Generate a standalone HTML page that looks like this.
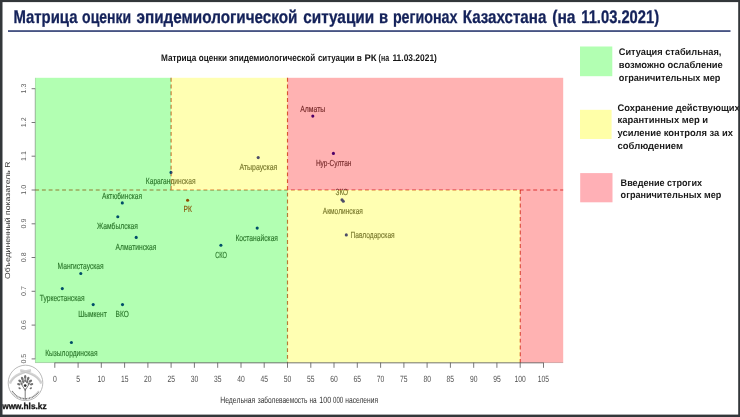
<!DOCTYPE html>
<html><head><meta charset="utf-8"><title>Matrix</title>
<style>
html,body{margin:0;padding:0;background:#fff;}
body{width:740px;height:417px;overflow:hidden;font-family:"Liberation Sans",sans-serif;}
svg{display:block;will-change:transform;}
text{font-family:"Liberation Sans",sans-serif;text-rendering:geometricPrecision;}
</style></head><body>
<svg width="740" height="417" viewBox="0 0 740 417">
<rect x="0" y="0" width="740" height="417" fill="#ffffff"/>
<text x="13.4" y="22.8" font-size="18.2" font-weight="bold" fill="#14225a" stroke="#14225a" stroke-width="0.3" textLength="64.1" lengthAdjust="spacingAndGlyphs">Матрица</text>
<text x="82.1" y="22.8" font-size="18.2" font-weight="bold" fill="#14225a" stroke="#14225a" stroke-width="0.3" textLength="49.1" lengthAdjust="spacingAndGlyphs">оценки</text>
<text x="136.6" y="22.8" font-size="18.2" font-weight="bold" fill="#14225a" stroke="#14225a" stroke-width="0.3" textLength="160.9" lengthAdjust="spacingAndGlyphs">эпидемиологической</text>
<text x="303.2" y="22.8" font-size="18.2" font-weight="bold" fill="#14225a" stroke="#14225a" stroke-width="0.3" textLength="71.0" lengthAdjust="spacingAndGlyphs">ситуации</text>
<text x="379.1" y="22.8" font-size="18.2" font-weight="bold" fill="#14225a" stroke="#14225a" stroke-width="0.3" textLength="9.1" lengthAdjust="spacingAndGlyphs">в</text>
<text x="392.9" y="22.8" font-size="18.2" font-weight="bold" fill="#14225a" stroke="#14225a" stroke-width="0.3" textLength="64.6" lengthAdjust="spacingAndGlyphs">регионах</text>
<text x="462.8" y="22.8" font-size="18.2" font-weight="bold" fill="#14225a" stroke="#14225a" stroke-width="0.3" textLength="83.5" lengthAdjust="spacingAndGlyphs">Казахстана</text>
<text x="552.2" y="22.8" font-size="18.2" font-weight="bold" fill="#14225a" stroke="#14225a" stroke-width="0.3" textLength="23.3" lengthAdjust="spacingAndGlyphs">(на</text>
<text x="581.3" y="22.8" font-size="18.2" font-weight="bold" fill="#14225a" stroke="#14225a" stroke-width="0.3" textLength="77.8" lengthAdjust="spacingAndGlyphs">11.03.2021)</text>
<rect x="8" y="30.3" width="722.5" height="1.5" fill="#1c2c66"/>
<text x="161.0" y="60.7" font-size="9.6" font-weight="bold" fill="#151515" textLength="35.3" lengthAdjust="spacingAndGlyphs">Матрица</text>
<text x="198.8" y="60.7" font-size="9.6" font-weight="bold" fill="#151515" textLength="28.2" lengthAdjust="spacingAndGlyphs">оценки</text>
<text x="229.3" y="60.7" font-size="9.6" font-weight="bold" fill="#151515" textLength="85.9" lengthAdjust="spacingAndGlyphs">эпидемиологической</text>
<text x="317.9" y="60.7" font-size="9.6" font-weight="bold" fill="#151515" textLength="36.8" lengthAdjust="spacingAndGlyphs">ситуации</text>
<text x="356.8" y="60.7" font-size="9.6" font-weight="bold" fill="#151515" textLength="5.1" lengthAdjust="spacingAndGlyphs">в</text>
<text x="364.4" y="60.7" font-size="9.6" font-weight="bold" fill="#151515" textLength="12.1" lengthAdjust="spacingAndGlyphs">РК</text>
<text x="378.6" y="60.7" font-size="9.6" font-weight="bold" fill="#151515" textLength="10.5" lengthAdjust="spacingAndGlyphs">(на</text>
<text x="392.4" y="60.7" font-size="9.6" font-weight="bold" fill="#151515" textLength="44.5" lengthAdjust="spacingAndGlyphs">11.03.2021)</text>
<g>
<line x1="35.2" y1="190.0" x2="563.2" y2="190.0" stroke="#b80000" stroke-width="1.15" stroke-opacity="0.72" fill="none" stroke-dasharray="3.9 2.83"/>
<line x1="171.1" y1="77.8" x2="171.1" y2="190.0" stroke="#b80000" stroke-width="1.15" stroke-opacity="0.72" fill="none" stroke-dasharray="3.9 2.86"/>
<line x1="287.5" y1="77.8" x2="287.5" y2="362.7" stroke="#b80000" stroke-width="1.15" stroke-opacity="0.72" fill="none" stroke-dasharray="3.9 2.86"/>
<line x1="520.2" y1="190.0" x2="520.2" y2="362.7" stroke="#b80000" stroke-width="1.15" stroke-opacity="0.72" fill="none" stroke-dasharray="3.9 2.86"/>
<circle cx="171.0" cy="172.4" r="1.55" fill="#000096"/>
<circle cx="122.3" cy="202.9" r="1.55" fill="#000096"/>
<circle cx="117.8" cy="216.8" r="1.55" fill="#000096"/>
<circle cx="136.2" cy="237.4" r="1.55" fill="#000096"/>
<circle cx="187.6" cy="200.2" r="1.55" fill="#cd0000"/>
<circle cx="80.8" cy="273.5" r="1.55" fill="#000096"/>
<circle cx="62.3" cy="288.6" r="1.55" fill="#000096"/>
<circle cx="93.2" cy="304.6" r="1.55" fill="#000096"/>
<circle cx="122.5" cy="304.6" r="1.55" fill="#000096"/>
<circle cx="71.4" cy="342.5" r="1.55" fill="#000096"/>
<circle cx="258.2" cy="157.6" r="1.55" fill="#000096"/>
<circle cx="333.4" cy="153.4" r="1.55" fill="#000096"/>
<circle cx="312.8" cy="116.1" r="1.55" fill="#000096"/>
<circle cx="342.0" cy="199.8" r="1.55" fill="#000096"/>
<circle cx="343.3" cy="201.2" r="1.55" fill="#000096"/>
<circle cx="257.2" cy="228.1" r="1.55" fill="#000096"/>
<circle cx="220.9" cy="245.3" r="1.55" fill="#000096"/>
<circle cx="346.3" cy="234.9" r="1.55" fill="#000096"/>
<text x="145.8" y="184.2" font-size="8.9" fill="#3a3a3a" stroke="#3a3a3a" stroke-width="0.14" textLength="49.7" lengthAdjust="spacingAndGlyphs">Карагандинская</text>
<text x="102.0" y="198.6" font-size="8.9" fill="#3a3a3a" stroke="#3a3a3a" stroke-width="0.14" textLength="40.0" lengthAdjust="spacingAndGlyphs">Актюбинская</text>
<text x="97.1" y="229.0" font-size="8.9" fill="#3a3a3a" stroke="#3a3a3a" stroke-width="0.14" textLength="40.8" lengthAdjust="spacingAndGlyphs">Жамбылская</text>
<text x="115.6" y="250.1" font-size="8.9" fill="#3a3a3a" stroke="#3a3a3a" stroke-width="0.14" textLength="40.8" lengthAdjust="spacingAndGlyphs">Алматинская</text>
<text x="183.6" y="212.4" font-size="8.9" fill="#c00000" stroke="#c00000" stroke-width="0.14" textLength="8.3" lengthAdjust="spacingAndGlyphs">РК</text>
<text x="57.6" y="268.8" font-size="8.9" fill="#3a3a3a" stroke="#3a3a3a" stroke-width="0.14" textLength="46.0" lengthAdjust="spacingAndGlyphs">Мангистауская</text>
<text x="39.7" y="300.9" font-size="8.9" fill="#3a3a3a" stroke="#3a3a3a" stroke-width="0.14" textLength="44.9" lengthAdjust="spacingAndGlyphs">Туркестанская</text>
<text x="78.3" y="317.4" font-size="8.9" fill="#3a3a3a" stroke="#3a3a3a" stroke-width="0.14" textLength="28.4" lengthAdjust="spacingAndGlyphs">Шымкент</text>
<text x="115.6" y="317.4" font-size="8.9" fill="#3a3a3a" stroke="#3a3a3a" stroke-width="0.14" textLength="13.2" lengthAdjust="spacingAndGlyphs">ВКО</text>
<text x="45.2" y="355.6" font-size="8.9" fill="#3a3a3a" stroke="#3a3a3a" stroke-width="0.14" textLength="52.4" lengthAdjust="spacingAndGlyphs">Кызылординская</text>
<text x="239.4" y="169.8" font-size="8.9" fill="#3a3a3a" stroke="#3a3a3a" stroke-width="0.14" textLength="38.0" lengthAdjust="spacingAndGlyphs">Атырауская</text>
<text x="315.9" y="166.3" font-size="8.9" fill="#3a3a3a" stroke="#3a3a3a" stroke-width="0.14" textLength="35.5" lengthAdjust="spacingAndGlyphs">Нур-Султан</text>
<text x="300.2" y="111.9" font-size="8.9" fill="#3a3a3a" stroke="#3a3a3a" stroke-width="0.14" textLength="25.1" lengthAdjust="spacingAndGlyphs">Алматы</text>
<text x="335.5" y="195.2" font-size="8.9" fill="#3a3a3a" stroke="#3a3a3a" stroke-width="0.14" textLength="12.6" lengthAdjust="spacingAndGlyphs">ЗКО</text>
<text x="322.8" y="213.8" font-size="8.9" fill="#3a3a3a" stroke="#3a3a3a" stroke-width="0.14" textLength="40.1" lengthAdjust="spacingAndGlyphs">Акмолинская</text>
<text x="235.4" y="240.9" font-size="8.9" fill="#3a3a3a" stroke="#3a3a3a" stroke-width="0.14" textLength="42.6" lengthAdjust="spacingAndGlyphs">Костанайская</text>
<text x="215.2" y="257.8" font-size="8.9" fill="#3a3a3a" stroke="#3a3a3a" stroke-width="0.14" textLength="11.8" lengthAdjust="spacingAndGlyphs">СКО</text>
<text x="350.5" y="238.4" font-size="8.9" fill="#3a3a3a" stroke="#3a3a3a" stroke-width="0.14" textLength="44.2" lengthAdjust="spacingAndGlyphs">Павлодарская</text>
</g>
<rect x="35.20" y="77.80" width="135.95" height="112.20" fill="#00ff00" fill-opacity="0.3"/>
<rect x="35.20" y="190.00" width="252.30" height="172.70" fill="#00ff00" fill-opacity="0.3"/>
<rect x="171.15" y="77.80" width="116.35" height="112.20" fill="#ffff00" fill-opacity="0.3"/>
<rect x="287.50" y="190.00" width="232.70" height="172.70" fill="#ffff00" fill-opacity="0.3"/>
<rect x="287.50" y="77.80" width="275.70" height="112.20" fill="#ff0000" fill-opacity="0.3"/>
<rect x="520.20" y="190.00" width="43.00" height="172.70" fill="#ff0000" fill-opacity="0.3"/>
<line x1="54.8" y1="362.7" x2="54.8" y2="367.8" stroke="#555" stroke-width="0.8"/>
<text x="52.9" y="381.9" font-size="9.1" fill="#505050" textLength="3.8" lengthAdjust="spacingAndGlyphs">0</text>
<line x1="78.1" y1="362.7" x2="78.1" y2="367.8" stroke="#555" stroke-width="0.8"/>
<text x="76.2" y="381.9" font-size="9.1" fill="#505050" textLength="3.8" lengthAdjust="spacingAndGlyphs">5</text>
<line x1="101.3" y1="362.7" x2="101.3" y2="367.8" stroke="#555" stroke-width="0.8"/>
<text x="97.6" y="381.9" font-size="9.1" fill="#505050" textLength="7.5" lengthAdjust="spacingAndGlyphs">10</text>
<line x1="124.6" y1="362.7" x2="124.6" y2="367.8" stroke="#555" stroke-width="0.8"/>
<text x="120.9" y="381.9" font-size="9.1" fill="#505050" textLength="7.5" lengthAdjust="spacingAndGlyphs">15</text>
<line x1="147.9" y1="362.7" x2="147.9" y2="367.8" stroke="#555" stroke-width="0.8"/>
<text x="144.1" y="381.9" font-size="9.1" fill="#505050" textLength="7.5" lengthAdjust="spacingAndGlyphs">20</text>
<line x1="171.1" y1="362.7" x2="171.1" y2="367.8" stroke="#555" stroke-width="0.8"/>
<text x="167.4" y="381.9" font-size="9.1" fill="#505050" textLength="7.5" lengthAdjust="spacingAndGlyphs">25</text>
<line x1="194.4" y1="362.7" x2="194.4" y2="367.8" stroke="#555" stroke-width="0.8"/>
<text x="190.7" y="381.9" font-size="9.1" fill="#505050" textLength="7.5" lengthAdjust="spacingAndGlyphs">30</text>
<line x1="217.7" y1="362.7" x2="217.7" y2="367.8" stroke="#555" stroke-width="0.8"/>
<text x="213.9" y="381.9" font-size="9.1" fill="#505050" textLength="7.5" lengthAdjust="spacingAndGlyphs">35</text>
<line x1="241.0" y1="362.7" x2="241.0" y2="367.8" stroke="#555" stroke-width="0.8"/>
<text x="237.2" y="381.9" font-size="9.1" fill="#505050" textLength="7.5" lengthAdjust="spacingAndGlyphs">40</text>
<line x1="264.2" y1="362.7" x2="264.2" y2="367.8" stroke="#555" stroke-width="0.8"/>
<text x="260.5" y="381.9" font-size="9.1" fill="#505050" textLength="7.5" lengthAdjust="spacingAndGlyphs">45</text>
<line x1="287.5" y1="362.7" x2="287.5" y2="367.8" stroke="#555" stroke-width="0.8"/>
<text x="283.8" y="381.9" font-size="9.1" fill="#505050" textLength="7.5" lengthAdjust="spacingAndGlyphs">50</text>
<line x1="310.8" y1="362.7" x2="310.8" y2="367.8" stroke="#555" stroke-width="0.8"/>
<text x="307.0" y="381.9" font-size="9.1" fill="#505050" textLength="7.5" lengthAdjust="spacingAndGlyphs">55</text>
<line x1="334.0" y1="362.7" x2="334.0" y2="367.8" stroke="#555" stroke-width="0.8"/>
<text x="330.3" y="381.9" font-size="9.1" fill="#505050" textLength="7.5" lengthAdjust="spacingAndGlyphs">60</text>
<line x1="357.3" y1="362.7" x2="357.3" y2="367.8" stroke="#555" stroke-width="0.8"/>
<text x="353.6" y="381.9" font-size="9.1" fill="#505050" textLength="7.5" lengthAdjust="spacingAndGlyphs">65</text>
<line x1="380.6" y1="362.7" x2="380.6" y2="367.8" stroke="#555" stroke-width="0.8"/>
<text x="376.8" y="381.9" font-size="9.1" fill="#505050" textLength="7.5" lengthAdjust="spacingAndGlyphs">70</text>
<line x1="403.9" y1="362.7" x2="403.9" y2="367.8" stroke="#555" stroke-width="0.8"/>
<text x="400.1" y="381.9" font-size="9.1" fill="#505050" textLength="7.5" lengthAdjust="spacingAndGlyphs">75</text>
<line x1="427.1" y1="362.7" x2="427.1" y2="367.8" stroke="#555" stroke-width="0.8"/>
<text x="423.4" y="381.9" font-size="9.1" fill="#505050" textLength="7.5" lengthAdjust="spacingAndGlyphs">80</text>
<line x1="450.4" y1="362.7" x2="450.4" y2="367.8" stroke="#555" stroke-width="0.8"/>
<text x="446.6" y="381.9" font-size="9.1" fill="#505050" textLength="7.5" lengthAdjust="spacingAndGlyphs">85</text>
<line x1="473.7" y1="362.7" x2="473.7" y2="367.8" stroke="#555" stroke-width="0.8"/>
<text x="469.9" y="381.9" font-size="9.1" fill="#505050" textLength="7.5" lengthAdjust="spacingAndGlyphs">90</text>
<line x1="496.9" y1="362.7" x2="496.9" y2="367.8" stroke="#555" stroke-width="0.8"/>
<text x="493.2" y="381.9" font-size="9.1" fill="#505050" textLength="7.5" lengthAdjust="spacingAndGlyphs">95</text>
<line x1="520.2" y1="362.7" x2="520.2" y2="367.8" stroke="#555" stroke-width="0.8"/>
<text x="514.6" y="381.9" font-size="9.1" fill="#505050" textLength="11.2" lengthAdjust="spacingAndGlyphs">100</text>
<line x1="543.5" y1="362.7" x2="543.5" y2="367.8" stroke="#555" stroke-width="0.8"/>
<text x="537.8" y="381.9" font-size="9.1" fill="#505050" textLength="11.2" lengthAdjust="spacingAndGlyphs">105</text>
<line x1="31.6" y1="358.9" x2="35.2" y2="358.9" stroke="#555" stroke-width="0.8"/>
<text transform="translate(25.7,363.6) rotate(-90)" font-size="7" fill="#5c5c5c" textLength="9.8" lengthAdjust="spacingAndGlyphs">0.5</text>
<line x1="31.6" y1="325.1" x2="35.2" y2="325.1" stroke="#555" stroke-width="0.8"/>
<text transform="translate(25.7,329.8) rotate(-90)" font-size="7" fill="#5c5c5c" textLength="9.8" lengthAdjust="spacingAndGlyphs">0.6</text>
<line x1="31.6" y1="291.3" x2="35.2" y2="291.3" stroke="#555" stroke-width="0.8"/>
<text transform="translate(25.7,296.0) rotate(-90)" font-size="7" fill="#5c5c5c" textLength="9.8" lengthAdjust="spacingAndGlyphs">0.7</text>
<line x1="31.6" y1="257.5" x2="35.2" y2="257.5" stroke="#555" stroke-width="0.8"/>
<text transform="translate(25.7,262.2) rotate(-90)" font-size="7" fill="#5c5c5c" textLength="9.8" lengthAdjust="spacingAndGlyphs">0.8</text>
<line x1="31.6" y1="223.8" x2="35.2" y2="223.8" stroke="#555" stroke-width="0.8"/>
<text transform="translate(25.7,228.5) rotate(-90)" font-size="7" fill="#5c5c5c" textLength="9.8" lengthAdjust="spacingAndGlyphs">0.9</text>
<line x1="31.6" y1="190.0" x2="35.2" y2="190.0" stroke="#555" stroke-width="0.8"/>
<text transform="translate(25.7,194.7) rotate(-90)" font-size="7" fill="#5c5c5c" textLength="9.8" lengthAdjust="spacingAndGlyphs">1.0</text>
<line x1="31.6" y1="156.2" x2="35.2" y2="156.2" stroke="#555" stroke-width="0.8"/>
<text transform="translate(25.7,160.9) rotate(-90)" font-size="7" fill="#5c5c5c" textLength="9.8" lengthAdjust="spacingAndGlyphs">1.1</text>
<line x1="31.6" y1="122.5" x2="35.2" y2="122.5" stroke="#555" stroke-width="0.8"/>
<text transform="translate(25.7,127.2) rotate(-90)" font-size="7" fill="#5c5c5c" textLength="9.8" lengthAdjust="spacingAndGlyphs">1.2</text>
<line x1="31.6" y1="88.7" x2="35.2" y2="88.7" stroke="#555" stroke-width="0.8"/>
<text transform="translate(25.7,93.4) rotate(-90)" font-size="7" fill="#5c5c5c" textLength="9.8" lengthAdjust="spacingAndGlyphs">1.3</text>
<line x1="54.8" y1="362.9" x2="543.5" y2="362.9" stroke="#666" stroke-width="0.7"/>
<line x1="35.1" y1="358.9" x2="35.1" y2="88.7" stroke="#777" stroke-opacity="0.6" stroke-width="0.6"/>
<line x1="35.2" y1="362.59999999999997" x2="563.2" y2="362.59999999999997" stroke="#000" stroke-opacity="0.22" stroke-width="0.8"/>
<line x1="35.400000000000006" y1="77.8" x2="35.400000000000006" y2="362.7" stroke="#000" stroke-opacity="0.16" stroke-width="0.8"/>
<text x="220.3" y="403.1" font-size="9.0" fill="#333" textLength="34.9" lengthAdjust="spacingAndGlyphs">Недельная</text>
<text x="257.7" y="403.1" font-size="9.0" fill="#333" textLength="49.8" lengthAdjust="spacingAndGlyphs">заболеваемость</text>
<text x="309.5" y="403.1" font-size="9.0" fill="#333" textLength="7.2" lengthAdjust="spacingAndGlyphs">на</text>
<text x="319.3" y="403.1" font-size="9.0" fill="#333" textLength="11.8" lengthAdjust="spacingAndGlyphs">100</text>
<text x="333.1" y="403.1" font-size="9.0" fill="#333" textLength="10.1" lengthAdjust="spacingAndGlyphs">000</text>
<text x="345.3" y="403.1" font-size="9.0" fill="#333" textLength="32.7" lengthAdjust="spacingAndGlyphs">населения</text>
<text transform="translate(9.8,278.9) rotate(-90)" font-size="7.2" fill="#333" textLength="117.4" lengthAdjust="spacingAndGlyphs">Объединенный показатель R</text>
<rect x="580" y="46.5" width="32.3" height="29.7" fill="#b2ffb2"/>
<rect x="580" y="109.8" width="31.6" height="29.2" fill="#ffffa8"/>
<rect x="580.2" y="173.1" width="32.3" height="29.2" fill="#ffb0b6"/>
<text x="618.8" y="55.40" font-size="9.6" font-weight="bold" fill="#1a1a1a" textLength="102.6" lengthAdjust="spacingAndGlyphs">Ситуация стабильная,</text>
<text x="618.8" y="67.95" font-size="9.6" font-weight="bold" fill="#1a1a1a" textLength="104.0" lengthAdjust="spacingAndGlyphs">возможно ослабление</text>
<text x="618.8" y="80.50" font-size="9.6" font-weight="bold" fill="#1a1a1a" textLength="101.6" lengthAdjust="spacingAndGlyphs">ограничительных мер</text>
<text x="617.5" y="110.80" font-size="9.6" font-weight="bold" fill="#1a1a1a" textLength="122.3" lengthAdjust="spacingAndGlyphs">Сохранение действующих</text>
<text x="617.5" y="123.30" font-size="9.6" font-weight="bold" fill="#1a1a1a" textLength="90.6" lengthAdjust="spacingAndGlyphs">карантинных мер и</text>
<text x="617.5" y="135.90" font-size="9.6" font-weight="bold" fill="#1a1a1a" textLength="115.4" lengthAdjust="spacingAndGlyphs">усиление контроля за их</text>
<text x="617.5" y="148.50" font-size="9.6" font-weight="bold" fill="#1a1a1a" textLength="65.5" lengthAdjust="spacingAndGlyphs">соблюдением</text>
<text x="620.6" y="185.80" font-size="9.6" font-weight="bold" fill="#1a1a1a" textLength="81.4" lengthAdjust="spacingAndGlyphs">Введение строгих</text>
<text x="620.6" y="198.20" font-size="9.6" font-weight="bold" fill="#1a1a1a" textLength="100.8" lengthAdjust="spacingAndGlyphs">ограничительных мер</text>
<g fill="none">
<ellipse cx="25.5" cy="382.9" rx="17.3" ry="17.7" stroke="#a8a8a8" stroke-width="0.8"/>
<path d="M9.9 383.6 Q13 374.2 31 370.3" stroke="#d4d4d4" stroke-width="2.6"/>
<path d="M41.3 383.6 Q38.2 374.2 20.2 370.3" stroke="#d4d4d4" stroke-width="2.6"/>
<path d="M10.6 382.2 Q14.4 374.4 30.6 371.2" stroke="#bdbdbd" stroke-width="0.5"/>
<path d="M40.6 382.2 Q36.8 374.4 20.6 371.2" stroke="#bdbdbd" stroke-width="0.5"/>
<path d="M12.2 391.2 A15.6 15.8 0 0 0 38.8 391.2" stroke="#707070" stroke-width="1.5" stroke-dasharray="0.9 0.6"/>
</g>
<g stroke="#5a5a5a" stroke-width="0.8" fill="none" stroke-linecap="round">
<path d="M25.2 399.3 L25.2 388.8 M25.2 390.2 L21.6 384.6 M25.2 390.2 L28.8 384.6"/>
</g>
<g fill="#707070">
<ellipse cx="25.2" cy="377.0" rx="1.2" ry="1.9" transform="rotate(0 25.2 377.0)"/>
<ellipse cx="22.3" cy="378.6" rx="1.2" ry="1.9" transform="rotate(-28 22.3 378.6)"/>
<ellipse cx="28.1" cy="378.6" rx="1.2" ry="1.9" transform="rotate(28 28.1 378.6)"/>
<ellipse cx="19.9" cy="381.0" rx="1.2" ry="1.8" transform="rotate(-55 19.9 381.0)"/>
<ellipse cx="30.5" cy="381.0" rx="1.2" ry="1.8" transform="rotate(55 30.5 381.0)"/>
<ellipse cx="18.8" cy="384.2" rx="1.1" ry="1.7" transform="rotate(-75 18.8 384.2)"/>
<ellipse cx="31.6" cy="384.2" rx="1.1" ry="1.7" transform="rotate(75 31.6 384.2)"/>
<ellipse cx="23.2" cy="381.6" rx="1.1" ry="1.7" transform="rotate(-18 23.2 381.6)"/>
<ellipse cx="27.2" cy="381.6" rx="1.1" ry="1.7" transform="rotate(18 27.2 381.6)"/>
<ellipse cx="25.2" cy="380.4" rx="1.0" ry="1.5" transform="rotate(0 25.2 380.4)"/>
<ellipse cx="21.6" cy="383.6" rx="1.0" ry="1.4" transform="rotate(-40 21.6 383.6)"/>
<ellipse cx="28.8" cy="383.6" rx="1.0" ry="1.4" transform="rotate(40 28.8 383.6)"/>
<ellipse cx="19.6" cy="388.2" rx="0.9" ry="1.3" transform="rotate(-60 19.6 388.2)"/>
<ellipse cx="30.8" cy="388.2" rx="0.9" ry="1.3" transform="rotate(60 30.8 388.2)"/>
<circle cx="25.2" cy="385.6" r="1.35" fill="#2a2a2a"/>
</g>
<text x="2.2" y="409.1" font-size="8.6" font-weight="bold" fill="#111" stroke="#111" stroke-width="0.3" textLength="44.4" lengthAdjust="spacingAndGlyphs">www.hls.kz</text>
<rect x="0" y="0" width="740" height="2.1" fill="#33373a"/>
<rect x="0" y="0" width="2.5" height="417" fill="#33373a"/>
<rect x="738.2" y="0" width="1.8" height="417" fill="#33373a"/>
<rect x="0" y="414.6" width="740" height="2.4" fill="#33373a"/>
</svg></body></html>
